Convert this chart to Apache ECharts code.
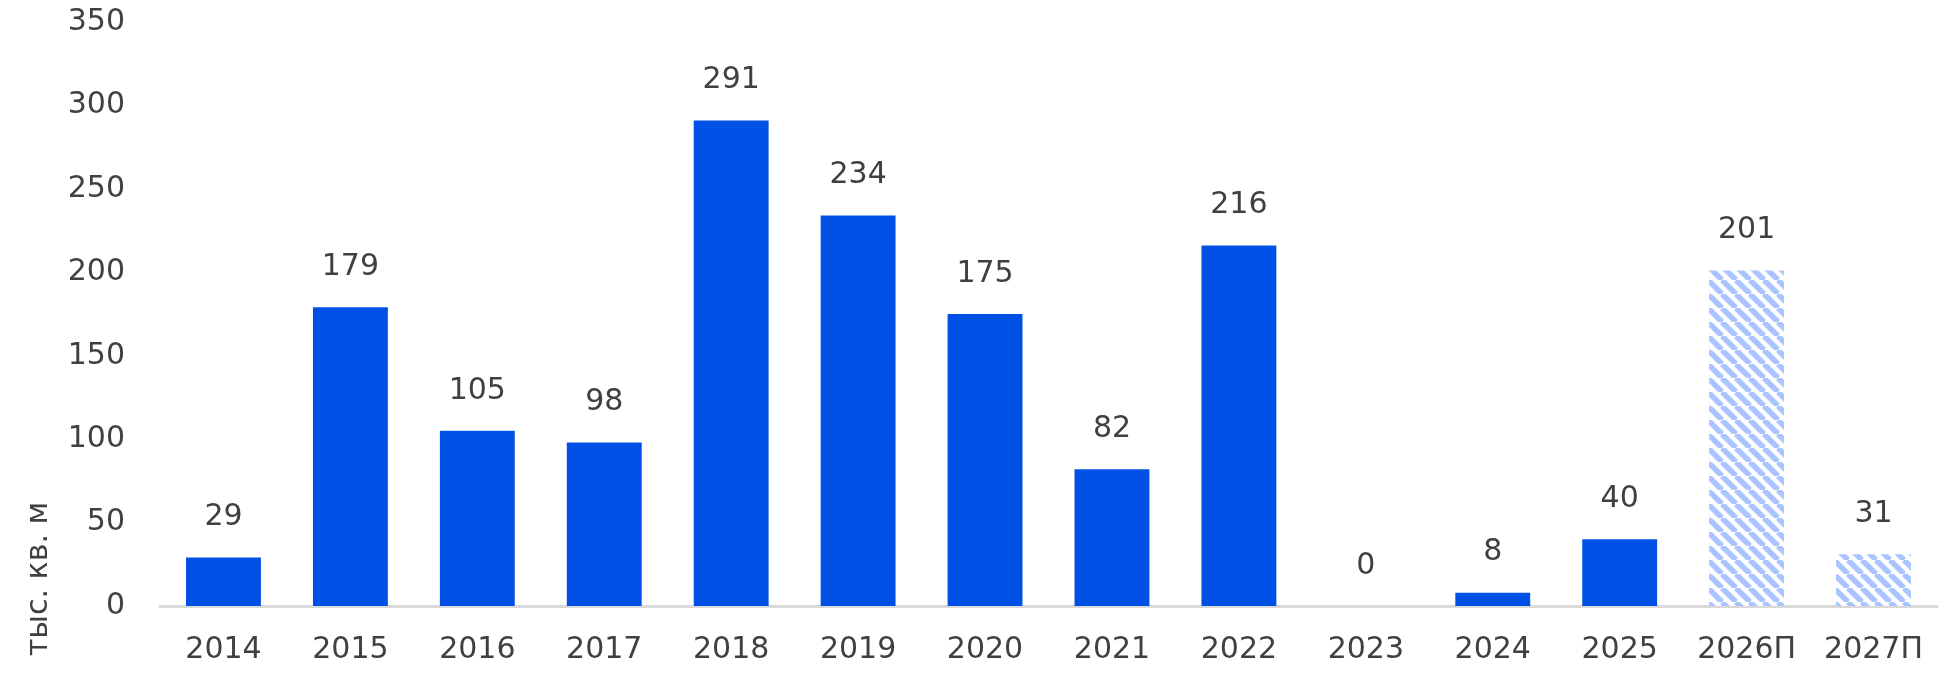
<!DOCTYPE html>
<html><head><meta charset="utf-8">
<script src="https://cdn.jsdelivr.net/npm/echarts@6/dist/echarts.min.js"></script>
<style>html,body{margin:0;padding:0;background:#fff}#c{width:1953px;height:675px}</style>
</head><body><div id="c"></div>
<script>
const categories = ['2014','2015','2016','2017','2018','2019','2020','2021','2022','2023','2024','2025','2026П','2027П'];
const values = [29,179,105,98,291,234,175,82,216,0,8,40,201,31];
const forecastFlags = [false,false,false,false,false,false,false,false,false,false,false,false,true,true];
const yTicks = [0,50,100,150,200,250,300,350];

function makePattern(){
  const s = 14;
  const cv = document.createElement('canvas');
  cv.width = s; cv.height = s;
  const ctx = cv.getContext('2d');
  ctx.fillStyle = '#ffffff'; ctx.fillRect(0,0,s,s);
  ctx.strokeStyle = '#a9c4ff'; ctx.lineWidth = 5.5;
  for (let k=-1;k<=1;k++){
    ctx.beginPath();
    ctx.moveTo(k*s, 0); ctx.lineTo(k*s + s, s);
    ctx.stroke();
  }
  return cv;
}
const pat = {image: makePattern(), repeat: 'repeat'};

const chart = echarts.init(document.getElementById('c'));
const font = 'DejaVu Sans, Verdana, sans-serif';
chart.setOption({
  animation:false,
  grid:{left:160,right:16,top:22,bottom:69,containLabel:false},
  xAxis:{type:'category',data:categories,
    axisLine:{lineStyle:{color:'#d9d9d9',width:3}},
    axisTick:{show:false},
    axisLabel:{color:'#404040',fontSize:30,fontFamily:font,margin:29,interval:0,hideOverlap:false}},
  yAxis:{type:'value',min:0,max:yTicks[yTicks.length-1],interval:50,
    splitLine:{show:false},axisLine:{show:false},axisTick:{show:false},
    axisLabel:{color:'#404040',fontSize:30,fontFamily:font,margin:35}},
  graphic:[{type:'text',x:39,y:579,rotation:Math.PI/2,
    style:{text:'тыс. кв. м',fill:'#404040',font:'30px '+font,textAlign:'center',textVerticalAlign:'middle'}}],
  series:[{type:'bar',barWidth:'59%',
    data:values.map((v,i)=>({value:v,itemStyle:{color:forecastFlags[i]?pat:'#0050e6'}})),
    label:{show:true,position:'top',distance:25,color:'#404040',fontSize:30,fontFamily:font}}]
});
</script></body></html>
